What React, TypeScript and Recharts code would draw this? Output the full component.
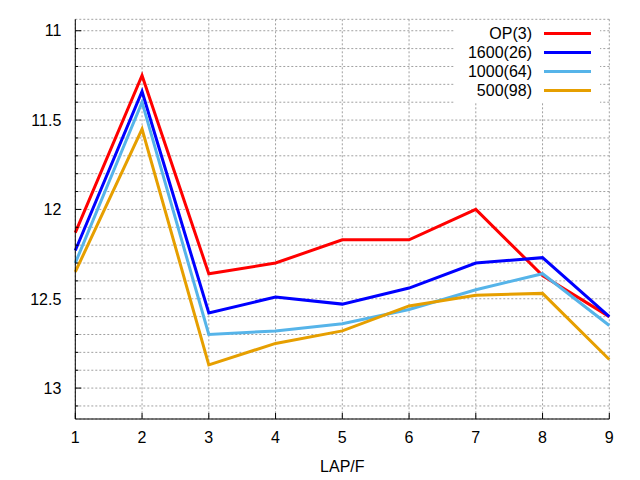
import { LineChart, Line, XAxis, YAxis, CartesianGrid, Legend } from 'recharts';

const laps = [1, 2, 3, 4, 5, 6, 7, 8, 9];
const op3 = [12.13, 11.25, 12.36, 12.3, 12.17, 12.17, 12.0, 12.37, 12.6];
const p1600 = [12.23, 11.34, 12.58, 12.49, 12.53, 12.44, 12.3, 12.27, 12.6];
const p1000 = [12.3, 11.4, 12.7, 12.68, 12.64, 12.56, 12.45, 12.36, 12.65];
const p500 = [12.35, 11.55, 12.87, 12.75, 12.68, 12.54, 12.48, 12.47, 12.84];

const xTicks = [1, 2, 3, 4, 5, 6, 7, 8, 9];
const yTicks = [
  11, 11.1, 11.2, 11.3, 11.4, 11.5, 11.6, 11.7, 11.8, 11.9,
  12, 12.1, 12.2, 12.3, 12.4, 12.5, 12.6, 12.7, 12.8, 12.9,
  13, 13.1,
];

const SERIES = [
  { key: 'op3', name: 'OP(3)', color: '#ff0000', values: op3 },
  { key: 'p1600', name: '1600(26)', color: '#0000ff', values: p1600 },
  { key: 'p1000', name: '1000(64)', color: '#56b4e9', values: p1000 },
  { key: 'p500', name: '500(98)', color: '#e69f00', values: p500 },
];

const data = laps.map((lap, i) => {
  const row: Record<string, number> = { lap };
  SERIES.forEach((s) => {
    row[s.key] = s.values[i];
  });
  return row;
});

const FONT = '"Liberation Sans", Arial, sans-serif';
const isMajor = (v: number) => Math.abs(v * 2 - Math.round(v * 2)) < 1e-6;
const order = (name: string) => SERIES.findIndex((s) => s.name === name);

function LeftTick(props: any) {
  const { x, y, payload } = props;
  const v = payload.value;
  const major = isMajor(v);
  return (
    <g>
      <line x1={x} x2={x + (major ? 6 : 3)} y1={y} y2={y} stroke="#000" />
      {major && (
        <text x={x - 14} y={y} dy="0.36em" textAnchor="end" fontSize={16} fontFamily={FONT} fill="#000">
          {String(Math.round(v * 10) / 10)}
        </text>
      )}
    </g>
  );
}

function RightTick(props: any) {
  const { x, y, payload } = props;
  const major = isMajor(payload.value);
  return <line x1={x} x2={x - (major ? 6 : 3)} y1={y} y2={y} stroke="#000" />;
}

function BottomTick(props: any) {
  const { x, y, payload } = props;
  return (
    <g>
      <line x1={x} x2={x} y1={y} y2={y - 6} stroke="#000" />
      <text x={x} y={y + 18} dy="0.36em" textAnchor="middle" fontSize={16} fontFamily={FONT} fill="#000">
        {payload.value}
      </text>
    </g>
  );
}

function TopTick(props: any) {
  const { x, y } = props;
  return <line x1={x} x2={x} y1={y} y2={y + 6} stroke="#000" />;
}

function KeyBox(props: any) {
  const items = [...(props.payload || [])].sort((a: any, b: any) => order(a.value) - order(b.value));
  return (
    <div style={{ background: '#fff', paddingTop: 4, paddingBottom: 3 }}>
      {items.map((p: any) => (
        <div key={p.value} style={{ display: 'flex', alignItems: 'center', height: 19 }}>
          <span
            style={{
              width: 77,
              textAlign: 'right',
              fontFamily: FONT,
              fontSize: 16,
              color: '#000',
              lineHeight: '19px',
            }}
          >
            {p.value}
          </span>
          <span style={{ marginLeft: 12, width: 47, height: 3, background: p.color }} />
        </div>
      ))}
    </div>
  );
}

export default function App() {
  return (
    <div style={{ position: 'relative', width: 640, height: 480 }}>
      <style>{'body{margin:0;background:#fff}'}</style>
      <LineChart
        width={640}
        height={480}
        data={data}
        margin={{ top: 19.3, right: 30.7, left: 0, bottom: 0 }}
      >
        <CartesianGrid stroke="#a0a0a0" strokeDasharray="2 2" />
        <XAxis
          dataKey="lap"
          type="number"
          domain={[1, 9]}
          ticks={xTicks}
          interval={0}
          height={61}
          tickSize={0}
          tickMargin={0}
          tickLine={false}
          axisLine={{ stroke: '#000' }}
          tick={BottomTick}
          label={{ value: 'LAP/F', position: 'insideBottom', offset: 8, fontSize: 16, fontFamily: FONT, fill: '#000' }}
        />
        <XAxis
          xAxisId="t"
          orientation="top"
          dataKey="lap"
          type="number"
          domain={[1, 9]}
          ticks={xTicks}
          interval={0}
          height={0}
          tickSize={0}
          tickMargin={0}
          tickLine={false}
          axisLine={{ stroke: '#000' }}
          tick={TopTick}
        />
        <YAxis
          type="number"
          reversed
          domain={[10.936, 13.173]}
          allowDataOverflow
          ticks={yTicks}
          interval={0}
          width={75.3}
          tickSize={0}
          tickMargin={0}
          tickLine={false}
          axisLine={{ stroke: '#000' }}
          tick={LeftTick}
        />
        <YAxis
          yAxisId="r"
          orientation="right"
          type="number"
          reversed
          domain={[10.936, 13.173]}
          allowDataOverflow
          ticks={yTicks}
          interval={0}
          width={0}
          tickSize={0}
          tickMargin={0}
          tickLine={false}
          axisLine={{ stroke: '#000' }}
          tick={RightTick}
        />
        <Legend
          layout="vertical"
          align="center"
          verticalAlign="middle"
          content={KeyBox}
          wrapperStyle={{ left: 455, top: 20, width: 145 }}
        />
        {SERIES.map((s) => (
          <Line
            key={s.key}
            dataKey={s.key}
            name={s.name}
            stroke={s.color}
            strokeWidth={3}
            dot={false}
            activeDot={false}
            strokeLinejoin="miter"
            isAnimationActive={false}
          />
        ))}
      </LineChart>
    </div>
  );
}
